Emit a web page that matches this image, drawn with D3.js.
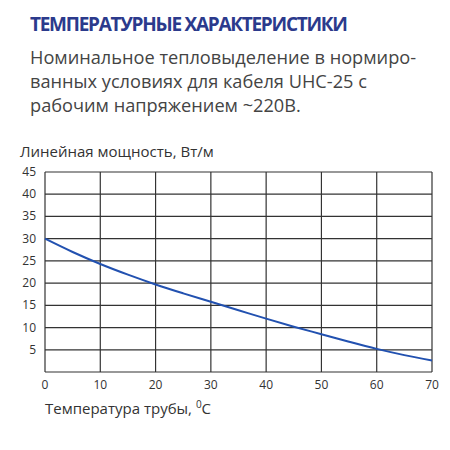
<!DOCTYPE html><html><head><meta charset="utf-8"><script src="https://cdn.jsdelivr.net/npm/d3@7"></script>
<style>body{margin:0;background:#fff}</style></head><body><svg id="c" width="450" height="450"></svg>
<script>
const temps=[0,5,10,15,20,25,30,35,40,45,50,55,60,65,70];
const power=[30,27,24.3,21.9,19.7,17.7,15.8,13.9,12,10.2,8.5,6.8,5.2,3.8,2.6];
const xTicks=[0,10,20,30,40,50,60,70];
const yTicks=[5,10,15,20,25,30,35,40,45];
const svg=d3.select("#c");const f="'Open Sans',sans-serif";
svg.append("text").attr("x",30).attr("y",31).attr("font-family",f).attr("font-weight","bold").attr("font-size",19).attr("fill","#2b3a8c").attr("textLength",318).text("ТЕМПЕРАТУРНЫЕ ХАРАКТЕРИСТИКИ");
["Номинальное тепловыделение в нормиро-","ванных условиях для кабеля UHC-25 с","рабочим напряжением ~220В."].forEach((t,i)=>svg.append("text").attr("x",30).attr("y",64+i*24).attr("font-family",f).attr("font-size",18.2).attr("fill","#444").text(t));
const x=d3.scaleLinear().domain([0,70]).range([45,432]);
const y=d3.scaleLinear().domain([0,45]).range([372,172]);
const g=svg.append("g");
xTicks.forEach(v=>g.append("line").attr("x1",x(v)).attr("x2",x(v)).attr("y1",y(0)).attr("y2",y(45)).attr("stroke","#333").attr("stroke-width",1.2));
[0,...yTicks].forEach(v=>g.append("line").attr("x1",x(0)).attr("x2",x(70)).attr("y1",y(v)).attr("y2",y(v)).attr("stroke","#333").attr("stroke-width",1.2));
xTicks.forEach(v=>g.append("text").attr("x",x(v)).attr("y",389).attr("text-anchor","middle").attr("font-family",f).attr("font-size",12).attr("fill","#333").text(v));
yTicks.forEach(v=>g.append("text").attr("x",36).attr("y",y(v)+4).attr("text-anchor","end").attr("font-family",f).attr("font-size",12).attr("fill","#333").text(v));
g.append("path").datum(temps.map((t,i)=>[t,power[i]])).attr("d",d3.line().x(d=>x(d[0])).y(d=>y(d[1])).curve(d3.curveMonotoneX)).attr("fill","none").attr("stroke","#2251b0").attr("stroke-width",2);
svg.append("text").attr("x",20).attr("y",157).attr("font-family",f).attr("font-size",15).attr("fill","#333").text("Линейная мощность, Вт/м");
const t=svg.append("text").attr("x",45).attr("y",414).attr("font-family",f).attr("font-size",15).attr("fill","#333");
t.append("tspan").text("Температура трубы, ");t.append("tspan").attr("font-size",10).attr("dy",-6).text("0");t.append("tspan").attr("dy",6).text("C");
</script></body></html>
